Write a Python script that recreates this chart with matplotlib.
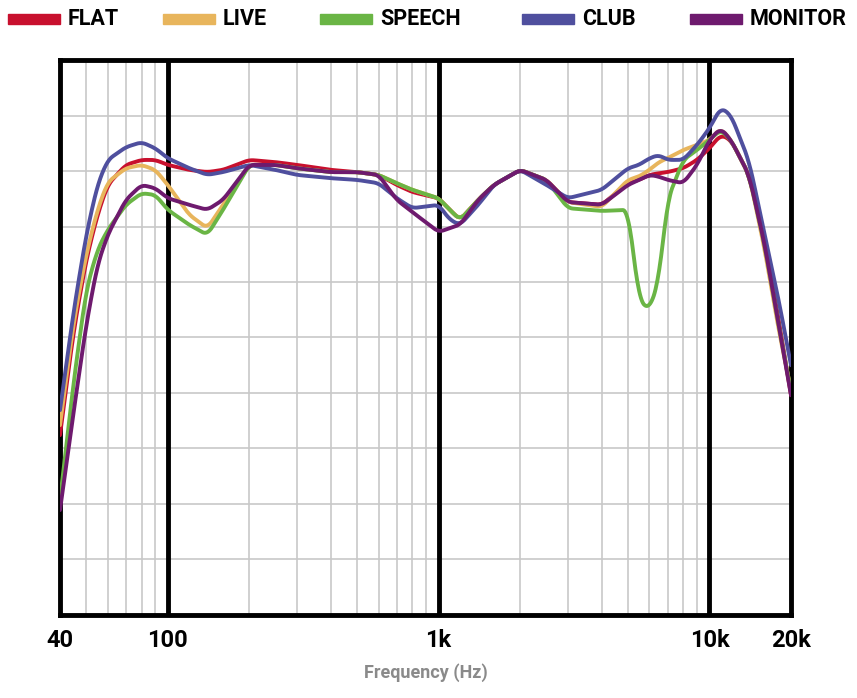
import numpy as np
import matplotlib.pyplot as plt
from matplotlib.patches import Rectangle

plt.rcParams['font.family'] = ['Roboto', 'DejaVu Sans']

freqs = [40, 45, 50, 55, 60, 70, 80, 90, 100, 120, 140, 160, 200, 250, 300, 400, 500, 600,
         700, 800, 1000, 1100, 1200, 1400, 1600, 2000, 2500, 3000, 4000, 5000, 5500, 6000,
         6500, 7000, 8000, 9000, 10000, 11000, 12000, 14000, 16000, 18000, 20000]

flat = [32.4, 51.4, 64.0, 72.1, 77.5, 81.1, 82.0, 82.0, 81.1, 80.2, 79.8, 80.2, 82.0, 81.6, 81.1,
        80.2, 79.8, 79.3, 77.5, 76.2, 75.1, 73.0, 71.2, 74.8, 77.5, 80.2, 78.4, 74.4, 73.9, 77.8,
        78.4, 79.3, 79.6, 79.8, 80.5, 82.0, 84.1, 86.5, 85.6, 79.3, 67.6, 53.2, 39.6]
live = [34.2, 53.0, 65.0, 73.0, 78.0, 80.5, 81.1, 80.2, 77.5, 72.1, 69.7, 73.9, 81.1, 81.1, 80.5,
        79.8, 79.8, 79.3, 77.8, 76.6, 75.1, 73.0, 71.2, 74.8, 77.5, 80.2, 78.4, 74.4, 73.5, 78.4,
        79.0, 80.2, 81.6, 82.3, 83.8, 84.7, 85.6, 87.7, 85.6, 79.3, 65.8, 51.4, 40.5]
speech = [20.7, 42.3, 58.6, 65.8, 69.4, 73.9, 76.0, 75.7, 73.0, 70.3, 68.5, 73.0, 81.1, 81.1, 80.5,
          79.8, 79.8, 79.3, 77.8, 76.6, 75.1, 73.0, 71.2, 74.8, 77.5, 80.2, 78.4, 73.3, 72.8, 73.0,
          56.8, 55.0, 60.4, 74.8, 82.0, 83.8, 85.6, 87.4, 85.6, 79.3, 66.7, 52.3, 40.2]
club = [36.9, 55.0, 68.5, 77.5, 82.0, 84.3, 85.2, 84.1, 82.3, 80.5, 79.3, 79.8, 81.1, 80.2, 79.3,
        78.7, 78.4, 77.8, 75.1, 73.3, 73.9, 71.2, 70.3, 73.9, 77.5, 80.2, 77.5, 75.1, 76.6, 80.5,
        81.1, 82.3, 82.9, 82.0, 82.0, 84.7, 87.7, 91.4, 90.1, 81.8, 68.5, 56.8, 45.0]
monitor = [18.9, 36.9, 52.3, 63.1, 68.5, 74.8, 77.5, 76.9, 75.1, 73.9, 73.0, 74.8, 81.1, 81.1, 80.5,
           79.8, 79.8, 79.3, 74.8, 72.6, 69.0, 69.7, 70.3, 74.8, 77.5, 80.2, 78.4, 74.4, 73.9, 77.5,
           78.4, 79.3, 79.0, 78.4, 77.8, 81.1, 85.6, 87.7, 85.6, 79.3, 66.7, 52.3, 39.6]

names = ['FLAT', 'LIVE', 'SPEECH', 'CLUB', 'MONITOR']
series = [flat, live, speech, club, monitor]
colors = ['#c8102e', '#e8b55c', '#6ab545', '#4f4f9e', '#6e1a6e']

fig = plt.figure(figsize=(8.57, 6.98), dpi=100)
ax = fig.add_axes([0.070, 0.119, 0.853, 0.795])

# smooth curves on a dense log grid
lf = np.log10(freqs)
dense = np.linspace(lf[0], lf[-1], 800)
k = np.ones(11) / 11
for vals, c in zip(series, colors):
    y = np.interp(dense, lf, vals)
    yp = np.pad(y, 5, mode='reflect', reflect_type='odd')
    ys = np.convolve(yp, k, mode='valid')
    ax.plot(10 ** dense, ys, color=c, lw=2.8, solid_capstyle='round', zorder=3)

ax.set_xscale('log')
ax.set_xlim(40, 20000)
ax.set_ylim(0, 100)

minor = [50, 60, 70, 80, 90] + list(range(200, 1000, 100)) + list(range(2000, 10000, 1000))
for m in minor:
    ax.axvline(m, color='#c8c8c8', lw=1.2, zorder=1)
for yy in range(10, 100, 10):
    ax.axhline(yy, color='#c8c8c8', lw=1.2, zorder=1)
for m in [100, 1000, 10000]:
    ax.axvline(m, color='black', lw=3.5, zorder=2)
for s in ax.spines.values():
    s.set_linewidth(3.5)

ax.set_yticks([])
ax.minorticks_off()
ax.set_xticks([40, 100, 1000, 10000, 20000])
ax.set_xticklabels(['40', '100', '1k', '10k', '20k'], fontsize=17, fontweight='bold')
ax.tick_params(axis='x', length=0, pad=10)
ax.set_xlabel('Frequency (Hz)', fontsize=13, fontweight='bold', color='#8a8a8a', labelpad=8)

# legend across the top
patch_x = [8, 163, 320, 522, 690]
for px, name, c in zip(patch_x, names, colors):
    fig.patches.append(Rectangle((px / 857, 1 - 24 / 698), 52 / 857, 10 / 698,
                                 transform=fig.transFigure, color=c))
    fig.text((px + 60) / 857, 1 - 19 / 698, name, fontsize=15.5, fontweight='bold',
             va='center', ha='left')

fig.savefig('out.png', dpi=100)
